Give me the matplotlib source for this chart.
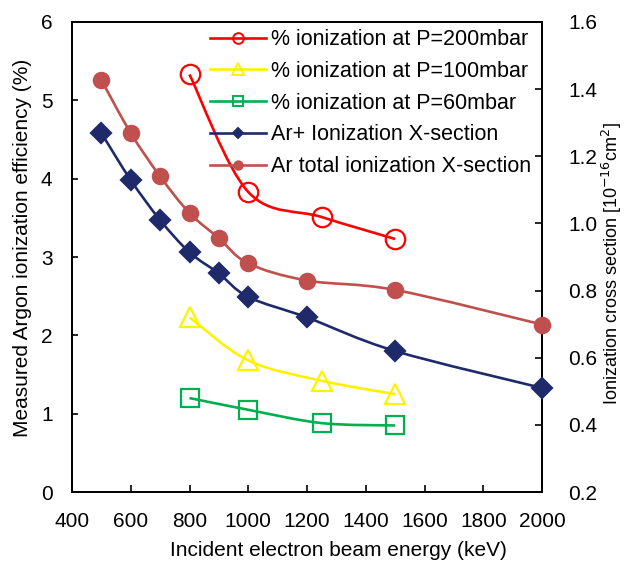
import numpy as np
import matplotlib.pyplot as plt
from matplotlib.path import Path
from matplotlib.patches import PathPatch
from matplotlib.lines import Line2D

plt.rcParams['font.family'] = ['Liberation Sans', 'DejaVu Sans']

# measured ionization efficiency (%)
energy_p = [800, 1000, 1250, 1500]
eff_200 = [5.33, 3.83, 3.51, 3.23]
eff_100 = [2.23, 1.68, 1.42, 1.25]
eff_60 = [1.20, 1.05, 0.88, 0.85]

# cross sections (1e-16 cm^2)
energy_x = [500, 600, 700, 800, 900, 1000, 1200, 1500, 2000]
xs_arplus = [1.269, 1.129, 1.010, 0.914, 0.851, 0.781, 0.720, 0.620, 0.510]
xs_total = [1.427, 1.269, 1.140, 1.031, 0.956, 0.881, 0.830, 0.802, 0.699]


def smooth_path(x, y):
    # Excel-like smoothed line as cubic bezier through the points
    p = np.column_stack([x, y]).astype(float)
    verts = [p[0]]
    codes = [Path.MOVETO]
    n = len(p)
    for i in range(n - 1):
        p0 = p[i - 1] if i > 0 else p[i]
        p3 = p[i + 2] if i + 2 < n else p[i + 1]
        c1 = p[i] + (p[i + 1] - p0) / 6
        c2 = p[i + 1] - (p3 - p[i]) / 6
        verts += [c1, c2, p[i + 1]]
        codes += [Path.CURVE4] * 3
    return Path(verts, codes)


def draw(ax, x, y, color, marker, ms, mfc, label):
    ax.add_patch(PathPatch(smooth_path(x, y), fc='none', ec=color, lw=1.9, zorder=2))
    ax.plot(x, y, ls='none', marker=marker, ms=ms, mfc=mfc, mec=color, mew=1.6,
            zorder=3, clip_on=False)
    return Line2D([], [], color=color, lw=1.9, marker=marker, ms=ms * 0.55,
                  mfc=mfc, mec=color, mew=1.4, label=label)


fig = plt.figure(figsize=(6.25, 5.63), dpi=100)
ax = fig.add_axes([0.1152, 0.126, 0.752, 0.835])
ax2 = ax.twinx()

red, yel, grn = '#FF0000', '#FFF200', '#00B050'
navy, brown = '#1F2A6B', '#C0504D'

h1 = draw(ax, energy_p, eff_200, red, 'o', 14, 'none', '% ionization at P=200mbar')
h2 = draw(ax, energy_p, eff_100, yel, '^', 15, 'none', '% ionization at P=100mbar')
h3 = draw(ax, energy_p, eff_60, grn, 's', 13, 'none', '% ionization at P=60mbar')
h4 = draw(ax2, energy_x, xs_arplus, navy, 'D', 10, navy, 'Ar+ Ionization X-section')
h5 = draw(ax2, energy_x, xs_total, brown, 'o', 11, brown, 'Ar total ionization X-section')

ax.set_xlim(400, 2000)
ax.set_ylim(0, 6)
ax2.set_ylim(0.2, 1.6)
ax.set_xticks(np.arange(400, 2001, 200))
ax.set_yticks(np.arange(0, 7, 1))
ax2.set_yticks(np.arange(0.2, 1.61, 0.2))
ax2.set_yticklabels([f'{v:.1f}' for v in np.arange(0.2, 1.61, 0.2)])

ax.tick_params(axis='x', direction='in', length=5, width=1.2, labelsize=15, pad=14)
ax.tick_params(axis='y', direction='in', length=4, width=1.2, labelsize=15, pad=14)
ax2.tick_params(axis='y', direction='in', length=5, width=1.2, labelsize=15, pad=19)
for a in (ax, ax2):
    for s in a.spines.values():
        s.set_linewidth(1.3)

ax.set_xlabel('Incident electron beam energy (keV)', fontsize=15)
ax.xaxis.set_label_coords(0.566, -0.105)
ax.set_ylabel('Measured Argon ionization efficiency (%)', fontsize=15)
ax.yaxis.set_label_coords(-0.085, 0.519)
fig.text(612 / 625, 0.531, 'Ionization cross section [10$^{-16}$cm$^{2}$]',
         fontsize=13, rotation=90, ha='center', va='center')

ax2.legend(handles=[h1, h2, h3, h4, h5], loc='upper right', frameon=False,
           fontsize=15.5, handlelength=2.6, handletextpad=0.25, labelspacing=0.5,
           borderaxespad=0.0, bbox_to_anchor=(0.995, 1.003))

fig.savefig('out.png', dpi=100)
